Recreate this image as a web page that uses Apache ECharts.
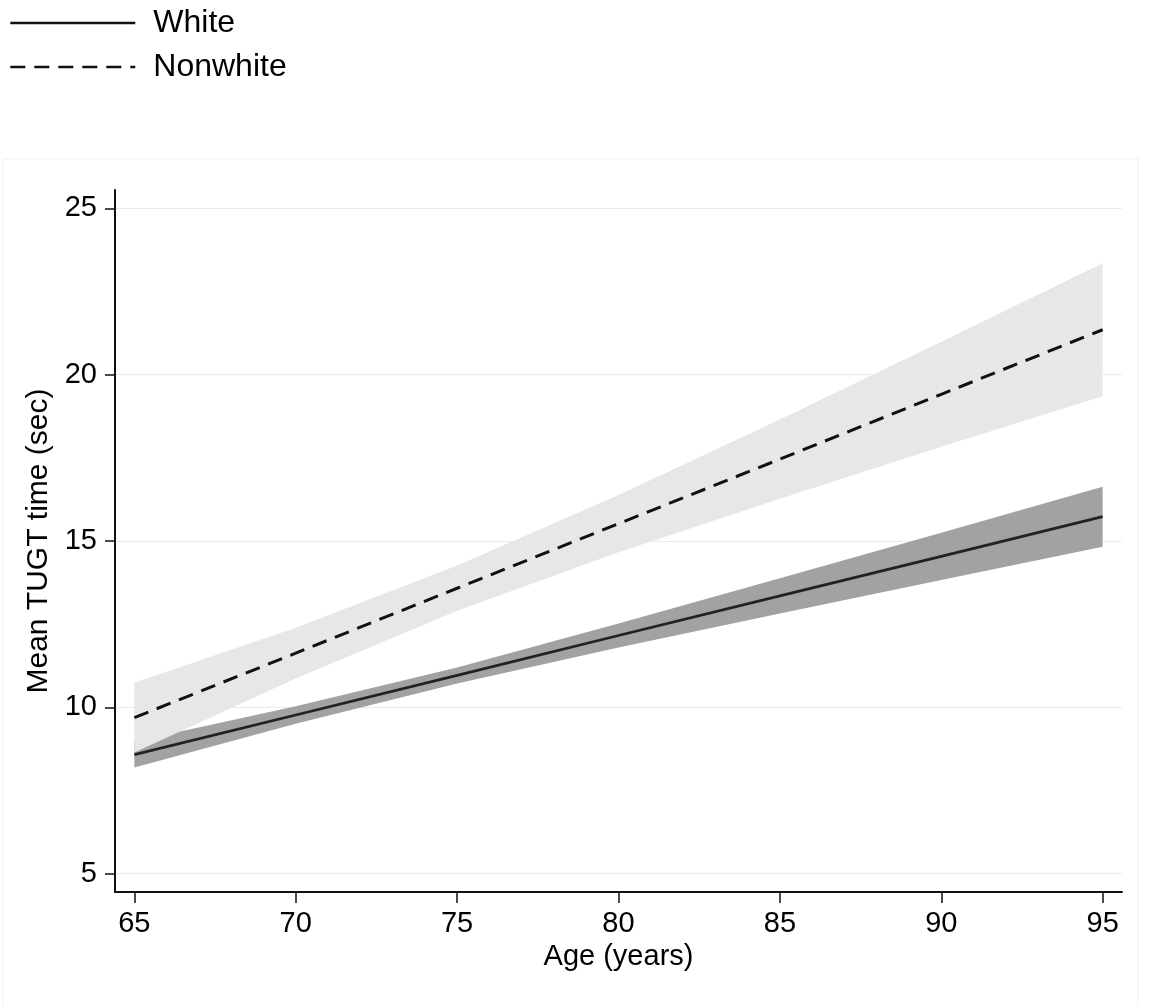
<!DOCTYPE html>
<html>
<head>
<meta charset="utf-8">
<script src="https://cdn.jsdelivr.net/npm/echarts@6/dist/echarts.min.js"></script>
<style>html,body{margin:0;padding:0;background:#fff;}#c{width:1151px;height:1005px;}</style>
</head>
<body>
<div id="c"></div>
<script>
// Data
const ages = [65, 70, 75, 80, 85, 90, 95];
const whiteMean  = [8.58, 9.77, 10.96, 12.16, 13.35, 14.54, 15.73];
const whiteLow   = [8.19, 9.51, 10.72, 11.80, 12.82, 13.83, 14.83];
const whiteHigh  = [8.97, 10.03, 11.20, 12.52, 13.88, 15.25, 16.63];
const nonwhiteMean = [9.69, 11.63, 13.58, 15.52, 17.46, 19.41, 21.35];
const nonwhiteLow  = [8.64, 10.87, 12.90, 14.66, 16.27, 17.83, 19.35];
const nonwhiteHigh = [10.74, 12.39, 14.26, 16.38, 18.65, 20.99, 23.35];
const xTicks = [65, 70, 75, 80, 85, 90, 95];
const yTicks = [5, 10, 15, 20, 25];

const FONT = '"Liberation Sans", Arial, Helvetica, sans-serif';
const pair = (ys) => ages.map((a, i) => [a, ys[i]]);
const bandData = (lo, hi) => ages.map((a, i) => [a, lo[i], hi[i]]);

function bandSeries(name, lo, hi, color, z) {
  return {
    name: name,
    type: 'custom',
    data: bandData(lo, hi),
    encode: { x: 0, y: [1, 2] },
    silent: true,
    z: z,
    renderItem: function (params, api) {
      if (params.dataIndex !== 0) return null;
      const top = [], bottom = [];
      for (let i = 0; i < ages.length; i++) {
        top.push(api.coord([ages[i], hi[i]]));
        bottom.push(api.coord([ages[i], lo[i]]));
      }
      return {
        type: 'polygon',
        shape: { points: top.concat(bottom.reverse()) },
        style: { fill: color, stroke: null }
      };
    }
  };
}

const chart = echarts.init(document.getElementById('c'));
chart.setOption({
  animation: false,
  backgroundColor: '#ffffff',
  textStyle: { fontFamily: FONT },
  graphic: [{
    type: 'rect',
    shape: { x: 3, y: 159, width: 1135, height: 850 },
    style: { fill: 'none', stroke: '#efefef', lineWidth: 1 },
    silent: true, z: -1
  }],
  legend: {
    data: ['White', 'Nonwhite'],
    orient: 'vertical',
    left: 4,
    top: 2,
    itemWidth: 125,
    itemHeight: 14,
    itemGap: 12,
    itemStyle: { color: 'rgba(0,0,0,0)', opacity: 0, borderWidth: 0 },
    lineStyle: { width: 2.6, color: '#111' },
    textStyle: { fontSize: 32, color: '#000', fontFamily: FONT, padding: [0, 0, 0, 13] },
    selectedMode: false
  },
  grid: { left: 115, right: 29, top: 190, bottom: 113, containLabel: false },
  xAxis: {
    type: 'value',
    min: 64.4,
    max: 95.6,
    name: 'Age (years)',
    nameLocation: 'middle',
    nameGap: 50,
    nameTextStyle: { fontSize: 29, color: '#000', fontFamily: FONT },
    axisLine: { show: true, lineStyle: { color: '#111', width: 2 } },
    axisTick: { show: true, length: 11, customValues: xTicks, lineStyle: { color: '#111', width: 1.5 } },
    axisLabel: { customValues: xTicks, fontSize: 29, color: '#000', margin: 17, fontFamily: FONT },
    splitLine: { show: false }
  },
  yAxis: {
    type: 'value',
    min: 4.45,
    max: 25.55,
    name: 'Mean TUGT time (sec)',
    nameLocation: 'middle',
    nameGap: 58,
    nameTextStyle: { fontSize: 30, color: '#000', fontFamily: FONT },
    axisLine: { show: true, lineStyle: { color: '#111', width: 2 } },
    axisTick: { show: true, length: 10, customValues: yTicks, lineStyle: { color: '#111', width: 1.5 } },
    axisLabel: { customValues: yTicks, fontSize: 29, color: '#000', margin: 18, fontFamily: FONT },
    splitLine: { show: true, lineStyle: { color: '#ebebeb', width: 1 } }
  },
  series: [
    bandSeries('White 95% CI', whiteLow, whiteHigh, '#a2a2a2', 1),
    bandSeries('Nonwhite 95% CI', nonwhiteLow, nonwhiteHigh, '#e7e7e7', 2),
    { name: 'White', type: 'line', data: pair(whiteMean), symbol: 'none',
      itemStyle: { color: '#222' },
      lineStyle: { color: '#222', width: 2.8, type: 'solid' }, z: 5 },
    { name: 'Nonwhite', type: 'line', data: pair(nonwhiteMean), symbol: 'none',
      itemStyle: { color: '#111' },
      lineStyle: { color: '#111', width: 3, type: [15, 9] }, z: 5 }
  ]
});
</script>
</body>
</html>
